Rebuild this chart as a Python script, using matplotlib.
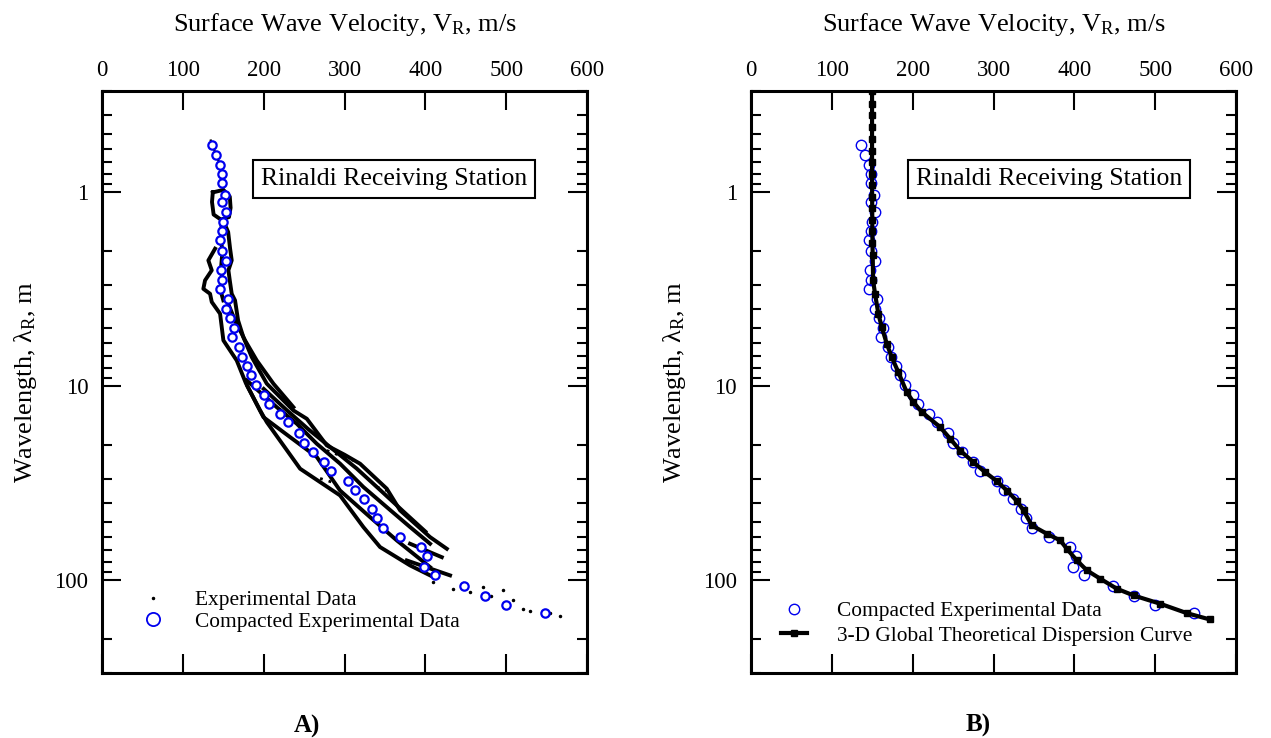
import numpy as np
import matplotlib
matplotlib.use("Agg")
from matplotlib import pyplot as plt
from matplotlib.lines import Line2D
from matplotlib.ticker import LogLocator, NullFormatter, FixedLocator

plt.rcParams['font.family'] = ['Liberation Serif', 'DejaVu Serif']
plt.rcParams['mathtext.fontset'] = 'custom'
plt.rcParams['mathtext.rm'] = 'Liberation Serif'
plt.rcParams['mathtext.it'] = 'Liberation Serif'

# compacted experimental data (velocity m/s, wavelength m)
comp_v = [136.1, 141.0, 145.6, 148.1, 148.8, 152.2, 148.5, 153.4, 150.1, 148.1,
          146.4, 148.5, 153.8, 147.2, 148.5, 146.0, 156.3, 153.0, 158.0, 162.9,
          161.2, 169.9, 173.2, 179.0, 184.3, 190.5, 200.4, 206.9, 220.5, 230.5,
          244.1, 250.3, 261.0, 274.7, 283.7, 304.0, 313.0, 324.1, 334.0, 340.6,
          347.3, 369.0, 394.3, 402.1, 398.4, 412.0, 448.2, 473.8, 499.8, 547.7]
comp_lam = [0.572, 0.642, 0.723, 0.801, 0.899, 1.036, 1.126, 1.257, 1.422, 1.589,
            1.768, 2.007, 2.260, 2.524, 2.842, 3.136, 3.531, 3.997, 4.462, 5.024,
            5.590, 6.272, 7.089, 7.885, 8.776, 9.881, 11.13, 12.38, 13.91, 15.33,
            17.33, 19.51, 21.71, 24.65, 27.43, 30.76, 34.36, 38.23, 42.91, 47.74,
            53.95, 60.02, 67.36, 75.19, 85.70, 93.46, 106.5, 120.9, 133.5, 147.5]

# experimental data, dense bands (velocity, wavelength)
band_top_v = [134.5, 141.0, 146.0, 148.5, 150.0]
band_top_lam = [0.54, 0.64, 0.72, 0.80, 0.97]
band_loop_v = [137, 150, 158, 159, 157, 147, 138, 136, 137]
band_loop_lam = [1.0, 0.97, 1.05, 1.2, 1.34, 1.38, 1.3, 1.12, 1.0]
band_inner_v = [148, 147, 149, 147, 149, 146, 150]
band_inner_lam = [1.42, 1.77, 2.0, 2.5, 2.84, 3.14, 3.6]
band_right_v = [150, 156, 158.4, 160.4, 156.3, 158, 160.4, 164.5, 168.3, 174.8, 185.2,
                203.8, 236.7, 253.3, 278.0, 300.0, 319.2, 352.2, 368.7, 405.8, 426.5]
band_right_lam = [1.4, 1.6, 1.95, 2.24, 2.52, 2.84, 3.33, 3.6, 4.57, 5.57, 7.06,
                  9.68, 13.3, 14.68, 20.14, 22.5, 25.03, 33.66, 43.55, 59.8, 68.7]
band_left_v = [139.8, 131.5, 135.7, 127.4, 125.3, 133.6, 135.7, 146.0, 150.1, 166.6,
               178.0, 195.5, 203.8, 245.0, 294.4, 323.3, 343.9, 381.0, 405.8]
band_left_lam = [1.95, 2.24, 2.52, 2.84, 3.14, 3.33, 3.67, 4.22, 5.79, 7.35,
                 9.65, 13.3, 15.28, 26.56, 36.46, 53.1, 67.3, 83.7, 94.2]
band_up_v = [154.3, 164.5, 176.9, 191.4, 212.0, 236.7]
band_up_lam = [3.60, 4.57, 5.79, 7.35, 9.68, 12.79]
band_mid1_v = [179.0, 216.1, 240.9, 265.6, 294.4, 323.3, 352.2, 381.1, 405.8]
band_mid1_lam = [9.31, 12.79, 15.57, 19.74, 25.0, 33.0, 41.9, 53.1, 64.7]
band_mid2_v = [180.0, 199.6, 232.6, 265.6, 294.4, 331.6, 364.6, 405.8]
band_mid2_lam = [10.0, 14.4, 18.25, 23.1, 34.4, 47.2, 62.2, 85.4]
band_mid3_v = [200, 228, 255, 285, 315, 345, 375, 400]
band_mid3_lam = [10.3, 13.2, 16.6, 21.0, 26.5, 34.5, 45.0, 56.0]
band_a_v = [381.0, 420.3]
band_a_lam = [64.7, 75.9]
band_b_v = [377.0, 430.5]
band_b_lam = [78.9, 94.2]

# experimental data, sparse dotted runs
run_c_v = [277.9, 317.1]
run_c_lam = [21.4, 24.6]
run_d_v = [269.7, 290.4]
run_d_lam = [29.8, 31.7]
run_e_v = [339.8, 352.2]
run_e_lam = [33.0, 34.4]

# experimental data, scattered dots
dots_v = [409.5, 434.3, 446.6, 471.4, 496.1, 455.3, 481.3, 508.5, 521.2, 529.5, 554.3, 566.6]
dots_lam = [102.0, 110.4, 103.6, 108.1, 112.7, 114.9, 120.9, 126.8, 139.9, 143.9, 147.5, 152.1]

# 3-D global theoretical dispersion curve
theo_v = [149.7, 149.7, 149.7, 149.7, 149.7, 149.7, 149.7, 149.7, 149.8, 149.8,
          149.9, 150.0, 150.1, 150.2, 150.5, 151.0, 153.4, 157.5, 161.7, 167.9,
          174.0, 182.2, 192.6, 200.9, 211.3, 233.9, 246.3, 258.7, 275.2, 289.7,
          304.1, 316.5, 328.9, 337.1, 347.5, 366.0, 382.5, 390.7, 403.1, 415.5,
          432.0, 452.6, 473.2, 506.2, 539.2, 567.2]
theo_lam = [0.30, 0.35, 0.40, 0.46, 0.53, 0.61, 0.70, 0.80, 0.92, 1.05,
            1.20, 1.38, 1.58, 1.82, 2.1, 2.84, 3.33, 4.22, 4.94, 6.02,
            7.06, 8.44, 10.7, 12.05, 13.56, 16.2, 18.6, 21.4, 24.6, 27.7,
            30.8, 34.4, 39.0, 43.6, 52.1, 57.5, 62.2, 68.7, 78.9, 88.8,
            98.0, 110.4, 119.5, 131.9, 147.5, 158.8]

x_ticks = [0, 100, 200, 300, 400, 500, 600]
site = "Rinaldi Receiving Station"
fs_tick = 16.5
fs_lab = 19
fs_leg = 15.4

fig = plt.figure(figsize=(12.71, 7.38), dpi=100)
ax1 = fig.add_axes([0.0803, 0.0881, 0.3816, 0.7886])
ax2 = fig.add_axes([0.5909, 0.0881, 0.3816, 0.7886])


def style_axis(ax, box_x):
    ax.set_yscale('log')
    ax.set_xlim(0, 600)
    ax.set_ylim(300, 0.3)
    ax.xaxis.set_major_locator(FixedLocator(x_ticks))
    ax.yaxis.set_minor_locator(LogLocator(base=10, subs=np.arange(2, 10), numticks=20))
    ax.yaxis.set_minor_formatter(NullFormatter())
    ax.set_yticks([1, 10, 100])
    ax.set_yticklabels(['1', '10', '100'])
    ax.xaxis.tick_top()
    ax.tick_params(which='major', direction='in', length=14, width=1.5,
                   top=True, bottom=True, left=True, right=True, labelsize=fs_tick)
    ax.tick_params(axis='x', pad=7)
    ax.tick_params(axis='y', pad=10)
    ax.tick_params(which='minor', direction='in', length=7, width=1.5,
                   left=True, right=True)
    for s in ax.spines.values():
        s.set_linewidth(2.2)
    ax.set_xlabel(r"Surface Wave Velocity, V$_\mathrm{R}$, m/s", fontsize=fs_lab)
    ax.xaxis.set_label_position('top')
    ax.xaxis.label.set_va('center')
    ax.xaxis.set_label_coords(0.5, 1.115)
    ax.set_ylabel(r"Wavelength, $\lambda_\mathrm{R}$, m", fontsize=fs_lab)
    ax.yaxis.label.set_va('center')
    ax.yaxis.set_label_coords(-0.158, 0.5)
    ax.text(box_x, 0.849, site, transform=ax.transAxes, fontsize=18.5, ha='left',
            va='center', bbox=dict(boxstyle='square,pad=0.3', fc='white', ec='black', lw=1.5))


style_axis(ax1, 0.327)
style_axis(ax2, 0.340)

# panel A
ax1.plot(band_top_v, band_top_lam, color='black', lw=1.6, zorder=2)
for bv, bl in [(band_loop_v, band_loop_lam), (band_inner_v, band_inner_lam),
               (band_right_v, band_right_lam), (band_left_v, band_left_lam),
               (band_up_v, band_up_lam), (band_mid1_v, band_mid1_lam),
               (band_mid2_v, band_mid2_lam), (band_mid3_v, band_mid3_lam),
               (band_a_v, band_a_lam), (band_b_v, band_b_lam)]:
    ax1.plot(bv, bl, color='black', lw=2.8, zorder=2)
for rv, rl in [(run_c_v, run_c_lam), (run_d_v, run_d_lam), (run_e_v, run_e_lam)]:
    ax1.plot(rv, rl, color='black', lw=2.0, ls=(0, (1, 2.2)), zorder=2)
ax1.plot(dots_v, dots_lam, ls='none', marker='.', ms=3, color='black', zorder=2)
ax1.plot(comp_v, comp_lam, ls='none', marker='o', ms=6, mfc='white', mec='#0000ee',
         mew=1.6, zorder=3)

h1 = [Line2D([], [], ls='none', marker='.', ms=3, color='black'),
      Line2D([], [], ls='none', marker='o', ms=9.5, mfc='white', mec='#0000ee', mew=1.3)]
ax1.legend(h1, ["Experimental Data", "Compacted Experimental Data"], loc='center left',
           bbox_to_anchor=(0.0777, 0.1065), frameon=False, fontsize=fs_leg, handlelength=1.2,
           handletextpad=1.4, labelspacing=0.05, borderpad=0, borderaxespad=0)

# panel B
ax2.plot(comp_v, comp_lam, ls='none', marker='o', ms=7.5, mfc='none', mec='#0000ee',
         mew=1.0, zorder=2, label="Compacted Experimental Data")
ax2.plot(theo_v, theo_lam, color='black', lw=3.0, marker='s', ms=4.5, zorder=3,
         label="3-D Global Theoretical Dispersion Curve")
ax2.legend(loc='center left', bbox_to_anchor=(0.0619, 0.085), frameon=False, fontsize=fs_leg,
           handlelength=1.2, handletextpad=1.4, labelspacing=0.2, borderpad=0, borderaxespad=0)

fig.text(0.2415, 0.015, "A)", fontsize=18, fontweight='bold', ha='center', va='center')
fig.text(0.7695, 0.0176, "B)", fontsize=18, fontweight='bold', ha='center', va='center')

fig.savefig("out.png", dpi=100)
